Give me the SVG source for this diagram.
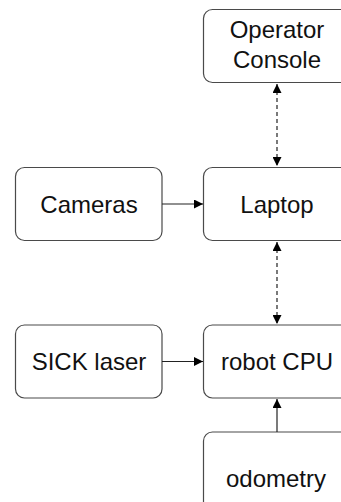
<svg xmlns="http://www.w3.org/2000/svg" width="341" height="502" viewBox="0 0 341 502">
<style>
.box{fill:#fff;stroke:#4a4a4a;stroke-width:1.2}
.t{font-family:"Liberation Sans",Arial,sans-serif;font-size:24px;fill:#111;text-anchor:middle}
.c{stroke:#222;stroke-width:1.2;fill:none}
.d{stroke-dasharray:4,3}
</style>
<defs>
<marker id="ah" viewBox="0 0 10 10" refX="10" refY="5" markerWidth="9" markerHeight="9" markerUnits="userSpaceOnUse" orient="auto-start-reverse">
<path d="M0,0 L10,5 L0,10 z" fill="#000"/>
</marker>
</defs>
<rect width="341" height="502" fill="#fff"/>
<g id="operator-console"><rect class="box" x="203.5" y="9.5" width="147" height="73" rx="9"/><text class="t" x="277" y="38">Operator</text><text class="t" x="277" y="68">Console</text></g>
<g id="cameras"><rect class="box" x="15.5" y="167.5" width="146.5" height="73" rx="9"/><text class="t" x="89" y="212.5">Cameras</text></g>
<g id="laptop"><rect class="box" x="203.5" y="167.5" width="147" height="73" rx="9"/><text class="t" x="277" y="212.5">Laptop</text></g>
<g id="sick-laser"><rect class="box" x="15.5" y="325" width="146.5" height="73" rx="9"/><text class="t" x="89" y="370">SICK laser</text></g>
<g id="robot-cpu"><rect class="box" x="203.5" y="325" width="147" height="73" rx="9"/><text class="t" x="277" y="370">robot CPU</text></g>
<g id="odometry"><rect class="box" x="203.5" y="432" width="147" height="80" rx="9"/><text class="t" x="276" y="487">odometry</text></g>
<g id="connectors">
<line class="c d" x1="277" y1="84" x2="277" y2="166" marker-start="url(#ah)" marker-end="url(#ah)"/>
<line class="c d" x1="277" y1="242" x2="277" y2="324" marker-start="url(#ah)" marker-end="url(#ah)"/>
<line class="c" x1="162" y1="204" x2="203" y2="204" marker-end="url(#ah)"/>
<line class="c" x1="162" y1="361.5" x2="203" y2="361.5" marker-end="url(#ah)"/>
<line class="c" x1="277" y1="432" x2="277" y2="399" marker-end="url(#ah)"/>
</g>
</svg>
